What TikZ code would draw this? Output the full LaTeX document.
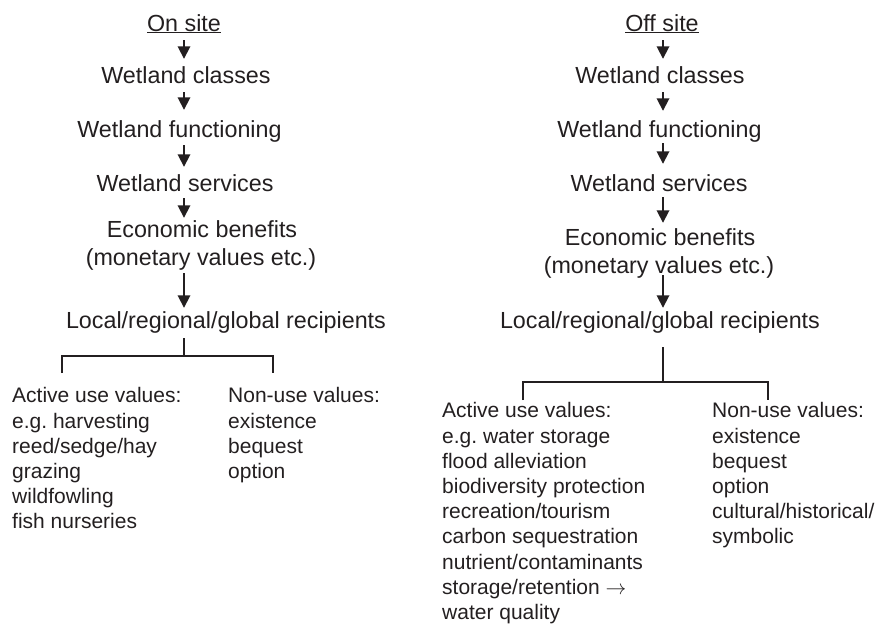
\documentclass[tikz,border=0pt]{standalone}
\usepackage{fontspec}
\setmainfont{Liberation Sans}
\usetikzlibrary{arrows.meta}
\definecolor{ink}{HTML}{231F20}
\frenchspacing
\begin{document}
\begin{tikzpicture}[x=1pt,y=-1pt,
  every node/.style={inner sep=0pt, text=ink},
  stage/.style={font=\fontsize{23.3}{28}\selectfont, anchor=base, text height=17pt, text depth=5pt},
  vlist/.style={font=\fontsize{21}{25.2}\selectfont, anchor=north west, align=left},
  arr/.style={draw=ink, line width=1.8pt, -{Triangle[width=12.5pt,length=12.5pt]}},
  brk/.style={draw=ink, line width=1.1pt}]
\useasboundingbox (0,0) rectangle (879,624);

% arrow axes of the two columns
\coordinate (L) at (184,0);
\coordinate (R) at (663,0);

% ---- on-site chain ----
\node[stage] (os)  at (184,31)   {\underline{On site}};
\node[stage] (wc)  at (186,83)   {Wetland classes};
\node[stage] (wf)  at (179.5,137){Wetland functioning};
\node[stage] (ws)  at (185,191)  {Wetland services};
\node[stage] (eb)  at (202,237)  {Economic benefits};
\node[stage] (mv)  at (201,265)  {(monetary values etc.)};
\node[stage] (loc) at (226,328)  {Local/regional/global recipients};

\draw[arr, shorten <=4pt, shorten >=7pt]  (os.south -| L) -- (wc.north -| L);
\draw[arr, shorten <=4pt, shorten >=10pt] (wc.south -| L) -- (wf.north -| L);
\draw[arr, shorten <=3pt, shorten >=7pt]  (wf.south -| L) -- (ws.north -| L);
\draw[arr, shorten <=2pt, shorten >=2pt]  (ws.south -| L) -- (eb.north -| L);
\draw[arr, shorten <=3pt, shorten >=3pt]  (mv.south -| L) -- (loc.north -| L);

% on-site bracket
\coordinate (lj) at (184,356);
\coordinate (la) at (62,373);
\coordinate (lb) at (273,373);
\draw[brk, shorten <=5pt] (loc.south -| lj) -- (lj);
\draw[brk] (la) |- (lj) -| (lb);

\node[vlist] (luse) at (12,387.5) {Active use values:\\e.g. harvesting\\reed/sedge/hay\\grazing\\wildfowling\\fish nurseries};
\node[vlist] (lnon) at (228,387.5) {Non-use values:\\existence\\bequest\\option};

% ---- off-site chain ----
\node[stage] (fs)   at (662,31)   {\underline{Off site}};
\node[stage] (rwc)  at (660,83)   {Wetland classes};
\node[stage] (rwf)  at (659.5,137){Wetland functioning};
\node[stage] (rws)  at (659,191)  {Wetland services};
\node[stage] (reb)  at (660,245)  {Economic benefits};
\node[stage] (rmv)  at (659,273)  {(monetary values etc.)};
\node[stage] (rloc) at (660,328)  {Local/regional/global recipients};

\draw[arr, shorten <=4pt, shorten >=7pt]  (fs.south -| R)  -- (rwc.north -| R);
\draw[arr, shorten <=4pt, shorten >=9pt]  (rwc.south -| R) -- (rwf.north -| R);
\draw[arr, shorten <=1pt, shorten >=10pt] (rwf.south -| R) -- (rws.north -| R);
\draw[arr, shorten <=1pt, shorten >=5pt]  (rws.south -| R) -- (reb.north -| R);
\draw[arr, shorten <=-3pt, shorten >=3pt] (rmv.south -| R) -- (rloc.north -| R);

% off-site bracket
\coordinate (rj) at (663,382);
\coordinate (ra) at (523,400);
\coordinate (rb) at (768,400);
\draw[brk, shorten <=14pt] (rloc.south -| rj) -- (rj);
\draw[brk] (ra) |- (rj) -| (rb);

\node[vlist] (ruse) at (442,402.5) {Active use values:\\e.g. water storage\\flood alleviation\\biodiversity protection\\recreation/tourism\\carbon sequestration\\nutrient/contaminants\\storage/retention $\rightarrow$\\water quality};
\node[vlist] (rnon) at (712,402.5) {Non-use values:\\existence\\bequest\\option\\cultural/historical/\\symbolic};
\end{tikzpicture}
\end{document}
